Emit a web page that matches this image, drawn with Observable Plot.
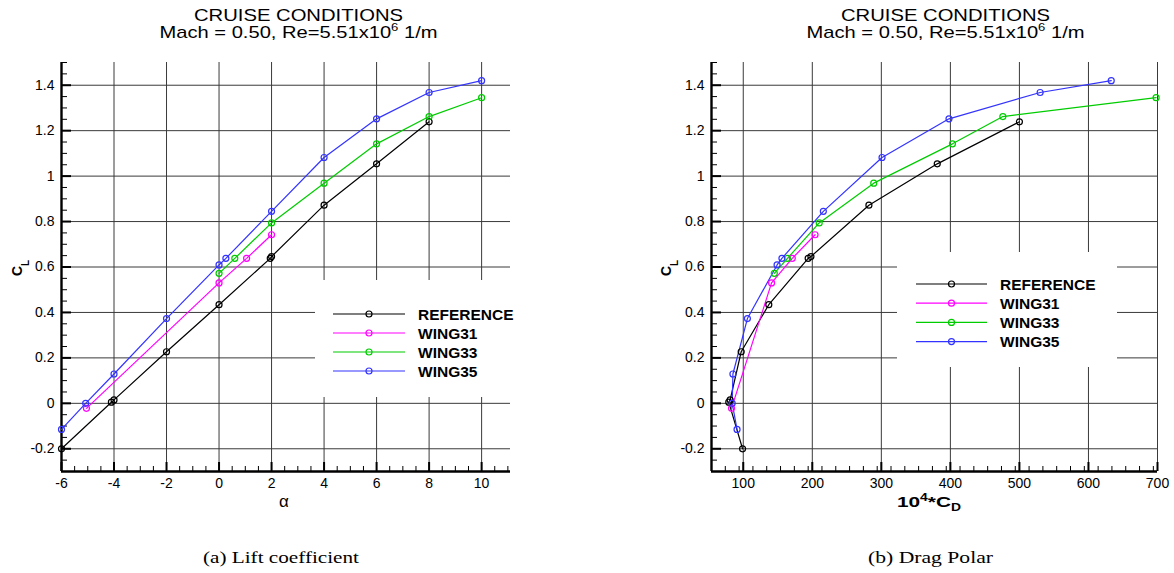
<!DOCTYPE html>
<html><head><meta charset="utf-8">
<script src="https://cdn.jsdelivr.net/npm/d3@7"></script>
<script src="https://cdn.jsdelivr.net/npm/@observablehq/plot@0.6"></script>
<style>
html,body{margin:0;padding:0;background:#fff;}
#wrap{position:relative;width:1174px;height:573px;overflow:hidden;background:#fff;}
#wrap > svg{position:absolute;top:0;}
</style></head><body><div id="wrap"></div>
<script>
// ---- data ----
const seriesNames = ["REFERENCE", "WING31", "WING33", "WING35"];
const seriesColors = ["#000000", "#ff00ff", "#00cc00", "#3333ff"];

const alphaRef = [-6, -4.1, -4, -2, 0, 1.95, 2, 4, 6, 8];
const clRef    = [-0.2, 0.005, 0.015, 0.227, 0.434, 0.638, 0.646, 0.872, 1.054, 1.239];
const cdRef    = [99, 79, 81, 97, 137, 194, 198, 282, 381, 500];

const alphaW31 = [-5.05, 0, 1.05, 2];
const clW31    = [-0.022, 0.53, 0.638, 0.742];
const cdW31    = [83, 141, 171, 204];

const alphaW33 = [0, 0.6, 2, 4, 6, 8, 10];
const clW33    = [0.572, 0.638, 0.794, 0.969, 1.142, 1.262, 1.345];
const cdW33    = [145, 164, 210, 289, 403, 476, 698];

const alphaW35 = [-6, -5.08, -4, -2, 0, 0.26, 2, 4, 6, 8, 10];
const clW35    = [-0.115, 0.0, 0.129, 0.373, 0.609, 0.638, 0.845, 1.082, 1.252, 1.368, 1.42];
const cdW35    = [91, 84, 85, 106, 149, 156, 216, 301, 398, 530, 633];

const alphaTicks = [-6, -4, -2, 0, 2, 4, 6, 8, 10];
const cdTicks = [100, 200, 300, 400, 500, 600, 700];
const clTicks = [-0.2, 0, 0.2, 0.4, 0.6, 0.8, 1, 1.2, 1.4];

const titleLine1 = "CRUISE CONDITIONS";
const titleLine2a = "Mach = 0.50, Re=5.51x10";
const titleLine2sup = "6";
const titleLine2b = " 1/m";
const captionA = "(a)  Lift coefficient";
const captionB = "(b)  Drag Polar";

// ---- build table ----
const seriesAlpha = [alphaRef, alphaW31, alphaW33, alphaW35];
const seriesCl = [clRef, clW31, clW33, clW35];
const seriesCd = [cdRef, cdW31, cdW33, cdW35];
const rows = [];
seriesNames.forEach((name, i) => {
  seriesAlpha[i].forEach((a, j) => rows.push({series: name, alpha: a, cl: seriesCl[i][j], cd: seriesCd[i][j]}));
});

const color = {domain: seriesNames, range: seriesColors};
const FONT = "'Liberation Sans', Arial, Helvetica, sans-serif";
const rnd = v => Math.round(v * 1000) / 1000;

function makePlot({xKey, xDomain, xTicks, xMinorStep, marginLeft, marginRight}) {
  const W = 587, H = 573, mt = 62, mb = 102;
  const frameW = W - marginLeft - marginRight;
  const frameH = H - mt - mb;
  const yDomain = [-0.3, 1.5];
  const xMinor = d3.range(xDomain[0], xDomain[1] + 1e-9, xMinorStep).map(rnd).filter(v => !xTicks.includes(v));
  const yMinor = d3.range(-0.3, 1.5 + 1e-9, 0.05).map(rnd).filter(v => !clTicks.includes(v));
  const xGrid = xTicks.filter(v => v > xDomain[0]);
  return Plot.plot({
    width: W, height: H,
    marginLeft, marginRight, marginTop: mt, marginBottom: mb,
    x: {domain: xDomain},
    y: {domain: yDomain},
    color,
    style: {fontFamily: FONT, fontSize: "14px", background: "transparent", color: "#000", overflow: "visible"},
    marks: [
      Plot.ruleX(xGrid, {stroke: "#3a3a3a", strokeWidth: 1}),
      Plot.ruleY(clTicks, {stroke: "#3a3a3a", strokeWidth: 1}),
      // inward ticks
      Plot.ruleX(xTicks, {insetTop: frameH - 9, stroke: "#000", strokeWidth: 2}),
      Plot.ruleX(xMinor, {insetTop: frameH - 5, stroke: "#000", strokeWidth: 1}),
      Plot.ruleY(clTicks, {insetRight: frameW - 10, stroke: "#000", strokeWidth: 2}),
      Plot.ruleY(yMinor, {insetRight: frameW - 6, stroke: "#000", strokeWidth: 1}),
      // axis lines
      Plot.ruleX([xDomain[0]], {stroke: "#000", strokeWidth: 2.4}),
      Plot.ruleY([yDomain[0]], {stroke: "#000", strokeWidth: 2.4}),
      Plot.line(rows, {x: xKey, y: "cl", z: "series", stroke: "series", strokeWidth: 1.2}),
      Plot.dot(rows, {x: xKey, y: "cl", stroke: "series", r: 3, strokeWidth: 1.2, fill: "none"}),
      Plot.axisX(xTicks, {tickSize: 0, tickPadding: 7, tickFormat: d => String(d), label: null, fontSize: 14}),
      Plot.axisY(clTicks, {tickSize: 0, tickPadding: 7, tickFormat: d => String(d), label: null, fontSize: 14})
    ]
  });
}

const wrap = document.getElementById("wrap");
const p1 = makePlot({xKey: "alpha", xDomain: [-6, 11.1], xTicks: alphaTicks, xMinorStep: 0.5, marginLeft: 61, marginRight: 77});
p1.style.left = "0px";
wrap.appendChild(p1);
const p2 = makePlot({xKey: "cd", xDomain: [54, 700], xTicks: cdTicks, xMinorStep: 20, marginLeft: 124, marginRight: 17});
p2.style.left = "587px";
wrap.appendChild(p2);

// ---- overlay: titles, axis labels, legends, captions ----
const svg = d3.create("svg").attr("width", 1174).attr("height", 573)
  .style("position", "absolute").style("left", "0px").style("top", "0px")
  .attr("font-family", FONT);

function title(cx) {
  svg.append("text").attr("x", cx).attr("y", 20.7).attr("text-anchor", "middle")
    .attr("font-size", 17).attr("textLength", 209).attr("lengthAdjust", "spacingAndGlyphs").text(titleLine1);
  const t = svg.append("text").attr("x", cx).attr("y", 37.5).attr("text-anchor", "middle")
    .attr("font-size", 17).attr("textLength", 278).attr("lengthAdjust", "spacingAndGlyphs");
  t.append("tspan").text(titleLine2a);
  t.append("tspan").attr("dy", -7).attr("font-size", 11).text(titleLine2sup);
  t.append("tspan").attr("dy", 7).text(titleLine2b);
}
title(298.5);
title(945.5);

function clLabel(xBase, yStart) {
  const t = svg.append("text").attr("transform", `translate(${xBase},${yStart}) rotate(-90)`)
    .attr("font-weight", "bold").attr("font-size", 14);
  t.append("tspan").text("C");
  t.append("tspan").attr("dy", 7).attr("font-size", 10).text("L");
}
clLabel(22, 276);
clLabel(671, 276);

svg.append("text").attr("x", 284).attr("y", 506.7).attr("text-anchor", "middle")
  .attr("font-size", 17).text("α");
{
  const t = svg.append("text").attr("x", 929).attr("y", 506.7).attr("text-anchor", "middle")
    .attr("font-weight", "bold").attr("font-size", 15).attr("textLength", 64).attr("lengthAdjust", "spacingAndGlyphs");
  t.append("tspan").text("10");
  t.append("tspan").attr("dy", -6).attr("font-size", 10).text("4");
  t.append("tspan").attr("dy", 6).text("*C");
  t.append("tspan").attr("dy", 4).attr("font-size", 10).text("D");
}

function legend(box, lineX0, lineX1, textX, rowY0, rowStep) {
  svg.append("rect").attr("x", box[0]).attr("y", box[1]).attr("width", box[2]).attr("height", box[3]).attr("fill", "#fff");
  seriesNames.forEach((name, i) => {
    const y = rowY0 + i * rowStep;
    svg.append("line").attr("x1", lineX0).attr("x2", lineX1).attr("y1", y).attr("y2", y)
      .attr("stroke", seriesColors[i]).attr("stroke-width", 1.2);
    svg.append("circle").attr("cx", (lineX0 + lineX1) / 2).attr("cy", y).attr("r", 3)
      .attr("fill", "none").attr("stroke", seriesColors[i]).attr("stroke-width", 1.2);
    svg.append("text").attr("x", textX).attr("y", y + 5.5).attr("font-weight", "bold")
      .attr("font-size", 15.5).text(name);
  });
}
legend([315, 280, 207, 117], 333, 405, 418, 314, 19);
legend([897, 252, 220, 115], 916, 987, 1000, 284, 19.2);

svg.append("text").attr("x", 281).attr("y", 562.5).attr("text-anchor", "middle")
  .attr("font-family", "'Liberation Serif', 'Times New Roman', serif").attr("font-size", 17.5)
  .attr("textLength", 156).attr("lengthAdjust", "spacingAndGlyphs").text(captionA);
svg.append("text").attr("x", 930.5).attr("y", 562.5).attr("text-anchor", "middle")
  .attr("font-family", "'Liberation Serif', 'Times New Roman', serif").attr("font-size", 17.5)
  .attr("textLength", 125).attr("lengthAdjust", "spacingAndGlyphs").text(captionB);

wrap.appendChild(svg.node());
</script></body></html>
